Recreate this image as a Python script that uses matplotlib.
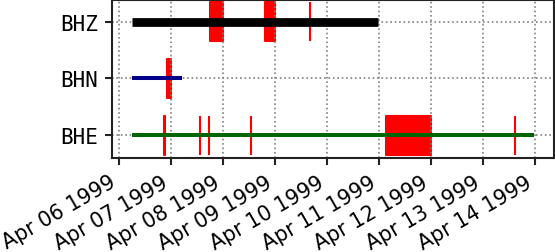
import matplotlib
matplotlib.use("Agg")
import matplotlib.pyplot as plt
import matplotlib.dates as mdates
import numpy as np
from datetime import datetime

# channels (bottom to top)
channels = ["BHE", "BHN", "BHZ"]
line_colors = ["darkgreen", "darkblue", "black"]
line_widths = [2.9, 2.9, 6.3]

# data availability per channel (start, end)
data_start = ["1999-04-06T06:00", "1999-04-06T06:00", "1999-04-06T06:00"]
data_end = ["1999-04-13T23:30", "1999-04-07T04:55", "1999-04-10T23:24"]

# gaps per channel: list of (start, end)
gaps_bhe = [("1999-04-06T20:55", "1999-04-06T21:05"),
            ("1999-04-07T13:20", "1999-04-07T13:30"),
            ("1999-04-07T17:25", "1999-04-07T17:35"),
            ("1999-04-08T13:00", "1999-04-08T13:10"),
            ("1999-04-11T03:20", "1999-04-12T00:00"),
            ("1999-04-13T14:45", "1999-04-13T14:55")]
gaps_bhn = [("1999-04-06T22:20", "1999-04-07T00:00")]
gaps_bhz = [("1999-04-07T17:50", "1999-04-08T00:00"),
            ("1999-04-08T19:20", "1999-04-09T00:00"),
            ("1999-04-09T16:05", "1999-04-09T16:15")]
gaps = [gaps_bhe, gaps_bhn, gaps_bhz]

tick_dates = ["1999-04-%02d" % d for d in range(6, 15)]


def num(s):
    return mdates.date2num(datetime.fromisoformat(s))


fig = plt.figure(figsize=(5.55, 2.53), dpi=100)
ax = fig.add_axes([112 / 555, 1 - 158.7 / 253, 441.7 / 555, 157.3 / 253])

for i, ch in enumerate(channels):
    segs = [(num(a), num(b) - num(a)) for a, b in gaps[i]]
    ax.broken_barh(segs, (i - 0.345, 0.69), facecolors="red",
                   edgecolors="red", linewidth=1.5, zorder=1)
    ax.hlines(i, num(data_start[i]), num(data_end[i]),
              colors=line_colors[i], linewidth=line_widths[i], zorder=2)

ax.set_yticks(range(len(channels)))
ax.set_yticklabels(channels, family="DejaVu Sans Mono", fontsize=15)
ax.set_ylim(-0.4, 2.38)

ax.set_xticks([num(d) for d in tick_dates])
ax.xaxis.set_major_formatter(mdates.DateFormatter("%b %d %Y"))
t0 = num(data_start[0])
t1 = num(data_end[0])
span = t1 - t0
ax.set_xlim(t0 - 0.05 * span, t1 + 0.05 * span)
for lab in ax.get_xticklabels():
    lab.set_rotation(30)
    lab.set_ha("right")
    lab.set_fontsize(14.8)

ax.grid(True, linestyle=":", color="gray", linewidth=1.2)
for sp in ax.spines.values():
    sp.set_linewidth(1.5)
    sp.set_color("#222222")
ax.tick_params(length=5, width=1.5, color="#222222", pad=5)

fig.savefig("out.png", dpi=100)
